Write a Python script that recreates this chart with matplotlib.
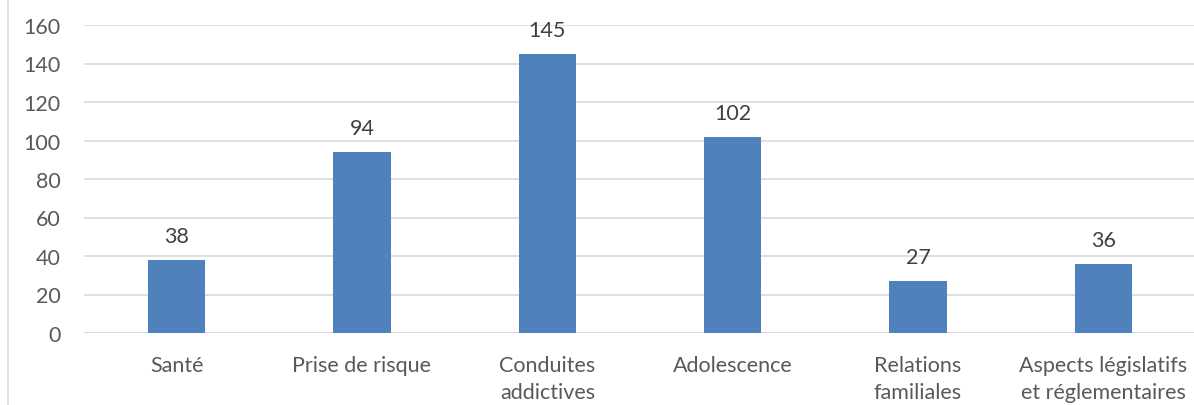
import matplotlib.pyplot as plt
from matplotlib.lines import Line2D

categories = ["Santé", "Prise de risque", "Conduites\naddictives", "Adolescence",
              "Relations\nfamiliales", "Aspects législatifs\net réglementaires"]
values = [38, 94, 145, 102, 27, 36]
yticks = [0, 20, 40, 60, 80, 100, 120, 140, 160]

plt.rcParams['font.family'] = ['Lato', 'DejaVu Sans']
txt = '#595959'
fs = 15.5

fig = plt.figure(figsize=(11.94, 4.06), dpi=100)
ax = fig.add_axes([84 / 1194, 72 / 406, 1112 / 1194, 308 / 406])

x = range(len(categories))
bars = ax.bar(x, values, width=0.31, color='#4F81BD', zorder=3)
for xi, v in zip(x, values):
    ax.annotate(str(v), (xi, v), xytext=(0, 10), textcoords='offset points',
                ha='center', va='bottom', fontsize=fs, color='#404040')

ax.set_xlim(-0.5, len(categories) - 0.5)
ax.set_ylim(0, 160)
ax.set_yticks(yticks)
ax.set_xticks(list(x))
ax.set_xticklabels(categories, linespacing=1.42)
ax.tick_params(axis='both', length=0, labelsize=fs, labelcolor=txt)
ax.tick_params(axis='y', pad=17)
ax.tick_params(axis='x', pad=16)
ax.grid(axis='y', color='#D9D9D9', linewidth=1.2, zorder=0)
for s in ax.spines.values():
    s.set_visible(False)
ax.axhline(0, color='#D9D9D9', linewidth=1.2, zorder=1)

# chart frame line on the left
fig.add_artist(Line2D([8 / 1194, 8 / 1194], [0, 1], color='#D9D9D9', linewidth=1.2))

fig.savefig('out.png', dpi=100)
